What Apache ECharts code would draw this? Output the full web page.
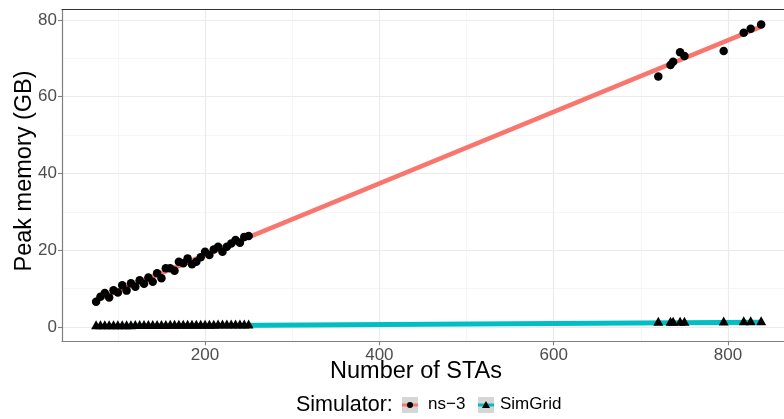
<!DOCTYPE html>
<html>
<head>
<meta charset="utf-8">
<script src="https://cdn.jsdelivr.net/npm/echarts@6/dist/echarts.min.js"></script>
<style>
html,body{margin:0;padding:0;background:#fff;}
#chart{width:784px;height:419px;}
</style>
</head>
<body>
<div id="chart"></div>
<script>
// ---- data ----
const staCounts = [75,80,85,90,95,100,105,110,115,120,125,130,135,140,145,150,155,160,165,170,175,180,185,190,195,200,205,210,215,220,225,230,235,240,245,250,
                   720,734,737,745,750,795,818,826,838];
const ns3Memory = [6.6,7.9,8.9,7.7,9.6,9.0,10.9,9.5,11.4,10.5,12.2,11.3,12.9,11.8,14.0,12.7,15.3,15.3,14.7,17.0,16.6,17.9,16.4,17.0,18.2,19.6,18.8,20.2,20.9,19.6,20.9,21.8,22.7,22.0,23.5,23.7,
                   65.3,68.3,69.1,71.6,70.6,71.9,76.7,77.7,78.8];
const simgridMemory = [0.19,0.20,0.21,0.20,0.22,0.23,0.24,0.23,0.25,0.26,0.27,0.27,0.28,0.28,0.30,0.30,0.31,0.32,0.32,0.33,0.34,0.34,0.35,0.36,0.36,0.37,0.38,0.38,0.39,0.40,0.40,0.41,0.42,0.42,0.43,0.44,
                   1.10,1.12,1.13,1.14,1.15,1.20,1.24,1.25,1.27];
const seriesNames = ['ns\u22123','SimGrid'];
const xMajorTicks = [200,400,600,800];
const xMinorTicks = [100,300,500,700];
const yMajorTicks = [0,20,40,60,80];
const yMinorTicks = [10,30,50,70];
const xRange = [35.9, 864.2];
const yRange = [-3.7, 82.7];

function pairs(xs, ys){ return xs.map((x,i)=>[x, ys[i]]); }
function lmLine(xs, ys){
  const n = xs.length;
  let sx=0, sy=0, sxx=0, sxy=0;
  for(let i=0;i<n;i++){ sx+=xs[i]; sy+=ys[i]; sxx+=xs[i]*xs[i]; sxy+=xs[i]*ys[i]; }
  const b = (n*sxy - sx*sy)/(n*sxx - sx*sx);
  const a = (sy - b*sx)/n;
  const x0 = Math.min(...xs), x1 = Math.max(...xs);
  return [[x0, a+b*x0],[x1, a+b*x1]];
}

const FONT = 'Liberation Sans';
const RED = '#F8766D', CYAN = '#00BFC4';
const axisGray = '#7f7f7f';

const chart = echarts.init(document.getElementById('chart'), null, {renderer:'canvas'});

function majorAxis(range, ticks, extra){
  return Object.assign({
    type:'value', min:range[0], max:range[1],
    axisLine:{show:true, onZero:false, lineStyle:{color:axisGray, width:1.2}},
    axisTick:{show:true, customValues:ticks, length:4, lineStyle:{color:axisGray, width:1.1}},
    splitLine:{show:true, lineStyle:{color:'#ebebeb', width:1.2}}
  }, extra);
}
function minorAxis(range, ticks, pos, lineShow){
  return {
    type:'value', min:range[0], max:range[1], position:pos,
    axisLine:{show:lineShow, onZero:false, lineStyle:{color:'#333', width:1}},
    axisLabel:{show:false},
    axisTick:{show:false, customValues:ticks},
    splitLine:{show:true, lineStyle:{color:'#f2f2f2', width:0.7}}
  };
}

chart.setOption({
  animation:false,
  backgroundColor:'#fff',
  grid:{left:62, top:9.6, right:0, height:331.7, show:false},
  xAxis:[
    majorAxis(xRange, xMajorTicks, {
      position:'bottom',
      axisLabel:{customValues:xMajorTicks, fontSize:17, color:'#4d4d4d', fontFamily:FONT, margin:6},
      name:'Number of STAs', nameLocation:'middle', nameGap:18.5, nameMoveOverlap:false,
      nameTextStyle:{fontSize:23.5, color:'#000', fontFamily:FONT, verticalAlign:'top', padding:[0,14,0,0]}
    }),
    minorAxis(xRange, xMinorTicks, 'top', true)
  ],
  yAxis:[
    majorAxis(yRange, yMajorTicks, {
      position:'left',
      axisLabel:{customValues:yMajorTicks, fontSize:17, color:'#4d4d4d', fontFamily:FONT, margin:5},
      name:'Peak memory (GB)', nameLocation:'middle', nameGap:25, nameRotate:90, nameMoveOverlap:false,
      nameTextStyle:{fontSize:23.5, color:'#000', fontFamily:FONT, verticalAlign:'bottom', padding:[0,0,0,9]}
    }),
    minorAxis(yRange, yMinorTicks, 'right', false)
  ],
  series:[
    {name:seriesNames[0]+' fit', type:'line', data:lmLine(staCounts, ns3Memory), showSymbol:false, symbol:'none',
     lineStyle:{color:RED, width:4.5}, z:2, silent:true},
    {name:seriesNames[1]+' fit', type:'line', data:lmLine(staCounts, simgridMemory), showSymbol:false, symbol:'none',
     lineStyle:{color:CYAN, width:5}, z:2, silent:true},
    {name:seriesNames[0], type:'scatter', data:pairs(staCounts, ns3Memory), symbol:'circle', symbolSize:8.5,
     itemStyle:{color:'#000', opacity:1}, z:3},
    {name:seriesNames[1], type:'scatter', data:pairs(staCounts, simgridMemory), symbol:'triangle', symbolSize:[10,9],
     symbolOffset:[0,-1.5], itemStyle:{color:'#000', opacity:1}, z:3}
  ],
  graphic:[
    {type:'text', left:296, top:394, style:{text:'Simulator:', font:'21.5px "Liberation Sans"', fill:'#000'}},
    {type:'rect', shape:{x:402, y:397, width:16, height:16}, style:{fill:'#d6d6d6'}},
    {type:'line', shape:{x1:402, y1:405, x2:418, y2:405}, style:{stroke:RED, lineWidth:3}},
    {type:'circle', shape:{cx:410, cy:405, r:3}, style:{fill:'#000'}},
    {type:'text', left:428, top:396, style:{text:seriesNames[0], font:'17px "Liberation Sans"', fill:'#000'}},
    {type:'rect', shape:{x:478, y:397, width:16, height:16}, style:{fill:'#d6d6d6'}},
    {type:'line', shape:{x1:478, y1:405, x2:494, y2:405}, style:{stroke:CYAN, lineWidth:3}},
    {type:'polygon', shape:{points:[[486,401],[490,408],[482,408]]}, style:{fill:'#000'}},
    {type:'text', left:500, top:396, style:{text:seriesNames[1], font:'17px "Liberation Sans"', fill:'#000'}}
  ]
});
</script>
</body>
</html>
